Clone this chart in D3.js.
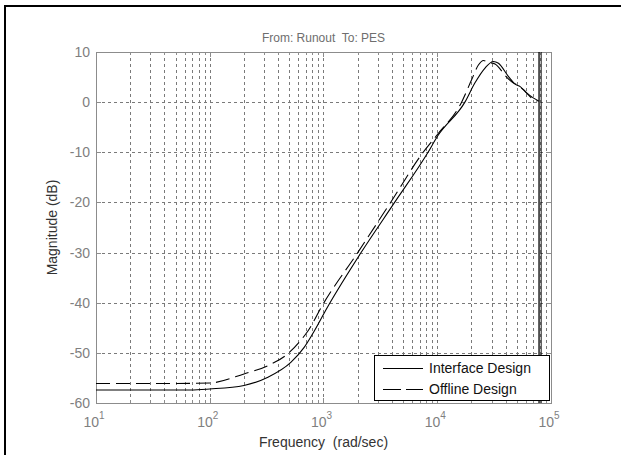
<!DOCTYPE html>
<html>
<head>
<meta charset="utf-8">
<script src="https://cdn.jsdelivr.net/npm/d3@7"></script>
<style>
  body { margin: 0; background: #fff; }
  text { font-family: "Liberation Sans", Arial, sans-serif; }
</style>
</head>
<body>
<svg width="621" height="455"></svg>
<script>
// frequencies in rad/sec, magnitudes in dB
var interfaceFreq = [10, 30, 68, 100, 200, 321, 516, 676, 803, 1089, 2140, 4220, 8300, 10040, 17500, 21400, 26300, 31100, 34500, 42300, 48400, 53600, 61400, 70300, 78500];
var interfaceMag  = [-57.4, -57.4, -57.4, -57.2, -56.5, -54.9, -51.9, -48.9, -46.2, -40.8, -30, -20, -10, -6.8, 0, 3.8, 6.8, 8.1, 7.75, 5.1, 3.6, 3.1, 1.8, 0.8, 0.2];

var offlineFreq = [10, 50, 101, 200, 321, 484, 631, 727, 984, 2000, 3890, 7520, 10000, 16370, 20000, 23000, 25500, 28100, 32200, 40800, 46800, 51800, 59300, 70300, 75900];
var offlineMag  = [-56.1, -56.1, -56.0, -54.2, -52.6, -50.2, -47.5, -45.7, -40.4, -30, -20, -10, -6.5, 0, 4.4, 7.4, 8.3, 7.95, 7.6, 4.97, 3.8, 3.3, 2.1, 0.5, 0.2];

var nyquistFreq = [78500, 82000];

var xTicks = [1e1, 1e2, 1e3, 1e4, 1e5];
var xTickExp = ["1", "2", "3", "4", "5"];
var yTicks = [10, 0, -10, -20, -30, -40, -50, -60];

var legendNames = ["Interface Design", "Offline Design"];

function main(){
    var svg = d3.select("svg");
    var left = 96, right = 551, top = 52, bottom = 403;

    var x = d3.scaleLog().domain([10, 1e5]).range([left, right]);
    var y = d3.scaleLinear().domain([-60, 10]).range([bottom, top]);

    // figure frame
    svg.append("line").attr("x1", 5).attr("x2", 5).attr("y1", 6).attr("y2", 455)
        .attr("stroke", "#000").attr("stroke-width", 2);
    svg.append("line").attr("x1", 4).attr("x2", 621).attr("y1", 6).attr("y2", 6)
        .attr("stroke", "#000").attr("stroke-width", 2);

    // minor + major frequencies for grid
    var gridX = [];
    for (var d = 1; d <= 4; d++) {
        for (var m = 1; m <= 9; m++) gridX.push(m * Math.pow(10, d));
    }
    gridX.push(1e5);

    var g = svg.append("g");

    g.selectAll(".vgrid")
        .data(gridX.filter(function(f){ return f > 10 && f < 1e5; }))
        .enter().append("line")
        .attr("x1", function(f){ return Math.round(x(f)) + 0.5; })
        .attr("x2", function(f){ return Math.round(x(f)) + 0.5; })
        .attr("y1", top).attr("y2", bottom)
        .attr("stroke", "#7a7a7a")
        .attr("stroke-dasharray", "3,3");

    g.selectAll(".hgrid")
        .data(yTicks.filter(function(v){ return v < 10 && v > -60; }))
        .enter().append("line")
        .attr("x1", left).attr("x2", right)
        .attr("y1", function(v){ return Math.round(y(v)) + 0.5; })
        .attr("y2", function(v){ return Math.round(y(v)) + 0.5; })
        .attr("stroke", "#7a7a7a")
        .attr("stroke-dasharray", "3,3");

    // ticks inside the box, all four sides
    g.selectAll(".xtickb")
        .data(gridX)
        .enter().append("line")
        .attr("x1", function(f){ return Math.round(x(f)) + 0.5; })
        .attr("x2", function(f){ return Math.round(x(f)) + 0.5; })
        .attr("y1", bottom)
        .attr("y2", function(f){ return bottom - (xTicks.indexOf(f) >= 0 ? 5 : 3); })
        .attr("stroke", "#8c8c8c");
    g.selectAll(".xtickt")
        .data(gridX)
        .enter().append("line")
        .attr("x1", function(f){ return Math.round(x(f)) + 0.5; })
        .attr("x2", function(f){ return Math.round(x(f)) + 0.5; })
        .attr("y1", top)
        .attr("y2", function(f){ return top + (xTicks.indexOf(f) >= 0 ? 5 : 3); })
        .attr("stroke", "#8c8c8c");
    g.selectAll(".ytick")
        .data(yTicks)
        .enter().append("path")
        .attr("d", function(v){
            var yy = Math.round(y(v)) + 0.5;
            return "M" + left + "," + yy + "h5M" + right + "," + yy + "h-5";
        })
        .attr("stroke", "#8c8c8c");

    // axes box
    g.append("rect")
        .attr("x", left + 0.5).attr("y", top + 0.5)
        .attr("width", right - left).attr("height", bottom - top)
        .attr("fill", "none")
        .attr("stroke", "#8c8c8c");

    // nyquist lines
    g.selectAll(".nyq")
        .data(nyquistFreq)
        .enter().append("line")
        .attr("x1", function(f){ return x(f); })
        .attr("x2", function(f){ return x(f); })
        .attr("y1", top).attr("y2", bottom)
        .attr("stroke", "#000")
        .attr("stroke-width", function(f, i){ return i == 0 ? 1.3 : 0.9; });

    var line = d3.line()
        .x(function(d){ return x(d[0]); })
        .y(function(d){ return y(d[1]); })
        .curve(d3.curveMonotoneX);

    g.append("path")
        .datum(d3.zip(interfaceFreq, interfaceMag))
        .attr("d", line)
        .attr("fill", "none")
        .attr("stroke", "#000")
        .attr("stroke-width", 1.1);

    g.append("path")
        .datum(d3.zip(offlineFreq, offlineMag))
        .attr("d", line)
        .attr("fill", "none")
        .attr("stroke", "#000")
        .attr("stroke-width", 1.1)
        .attr("stroke-dasharray", "14,6");

    // y tick labels
    g.selectAll(".ylab")
        .data(yTicks)
        .enter().append("text")
        .attr("x", left - 6)
        .attr("y", function(v){ return y(v) + 5; })
        .attr("text-anchor", "end")
        .attr("font-size", "14px")
        .attr("fill", "#7f7f7f")
        .text(function(v){ return v; });

    // x tick labels 10^n
    var xl = g.selectAll(".xlab")
        .data(xTicks)
        .enter().append("text")
        .attr("x", function(f){ return x(f) - 2; })
        .attr("y", bottom + 24)
        .attr("text-anchor", "middle")
        .attr("font-size", "14px")
        .attr("fill", "#7f7f7f");
    xl.append("tspan").text("10");
    xl.append("tspan")
        .attr("dy", -8)
        .attr("font-size", "10px")
        .text(function(f, i){ return xTickExp[i]; });

    // title and axis labels
    svg.append("text")
        .attr("x", (left + right) / 2)
        .attr("y", 42)
        .attr("text-anchor", "middle")
        .attr("font-size", "12px")
        .attr("fill", "#6e6e6e")
        .style("white-space", "pre")
        .text("From: Runout  To: PES");

    svg.append("text")
        .attr("transform", "translate(57," + ((top + bottom) / 2) + ") rotate(-90)")
        .attr("text-anchor", "middle")
        .attr("font-size", "14px")
        .attr("fill", "#333")
        .text("Magnitude (dB)");

    svg.append("text")
        .attr("x", (left + right) / 2)
        .attr("y", 447)
        .attr("text-anchor", "middle")
        .attr("font-size", "14px")
        .attr("fill", "#333")
        .style("white-space", "pre")
        .text("Frequency  (rad/sec)");

    // legend
    var lg = svg.append("g").attr("transform", "translate(374,355)");
    lg.append("rect")
        .attr("x", 0.5).attr("y", 0.5)
        .attr("width", 175).attr("height", 45)
        .attr("fill", "#fff")
        .attr("stroke", "#000");
    var rows = lg.selectAll(".row")
        .data(legendNames)
        .enter().append("g")
        .attr("transform", function(d, i){ return "translate(0," + (13 + i * 21) + ")"; });
    rows.append("line")
        .attr("x1", 9).attr("x2", 49)
        .attr("y1", 0.5).attr("y2", 0.5)
        .attr("stroke", "#000")
        .attr("stroke-dasharray", function(d, i){ return i == 1 ? "18,5" : null; });
    rows.append("text")
        .attr("x", 55)
        .attr("y", 5)
        .attr("font-size", "14px")
        .attr("fill", "#111")
        .text(function(d){ return d; });
}
main();
</script>
</body>
</html>
